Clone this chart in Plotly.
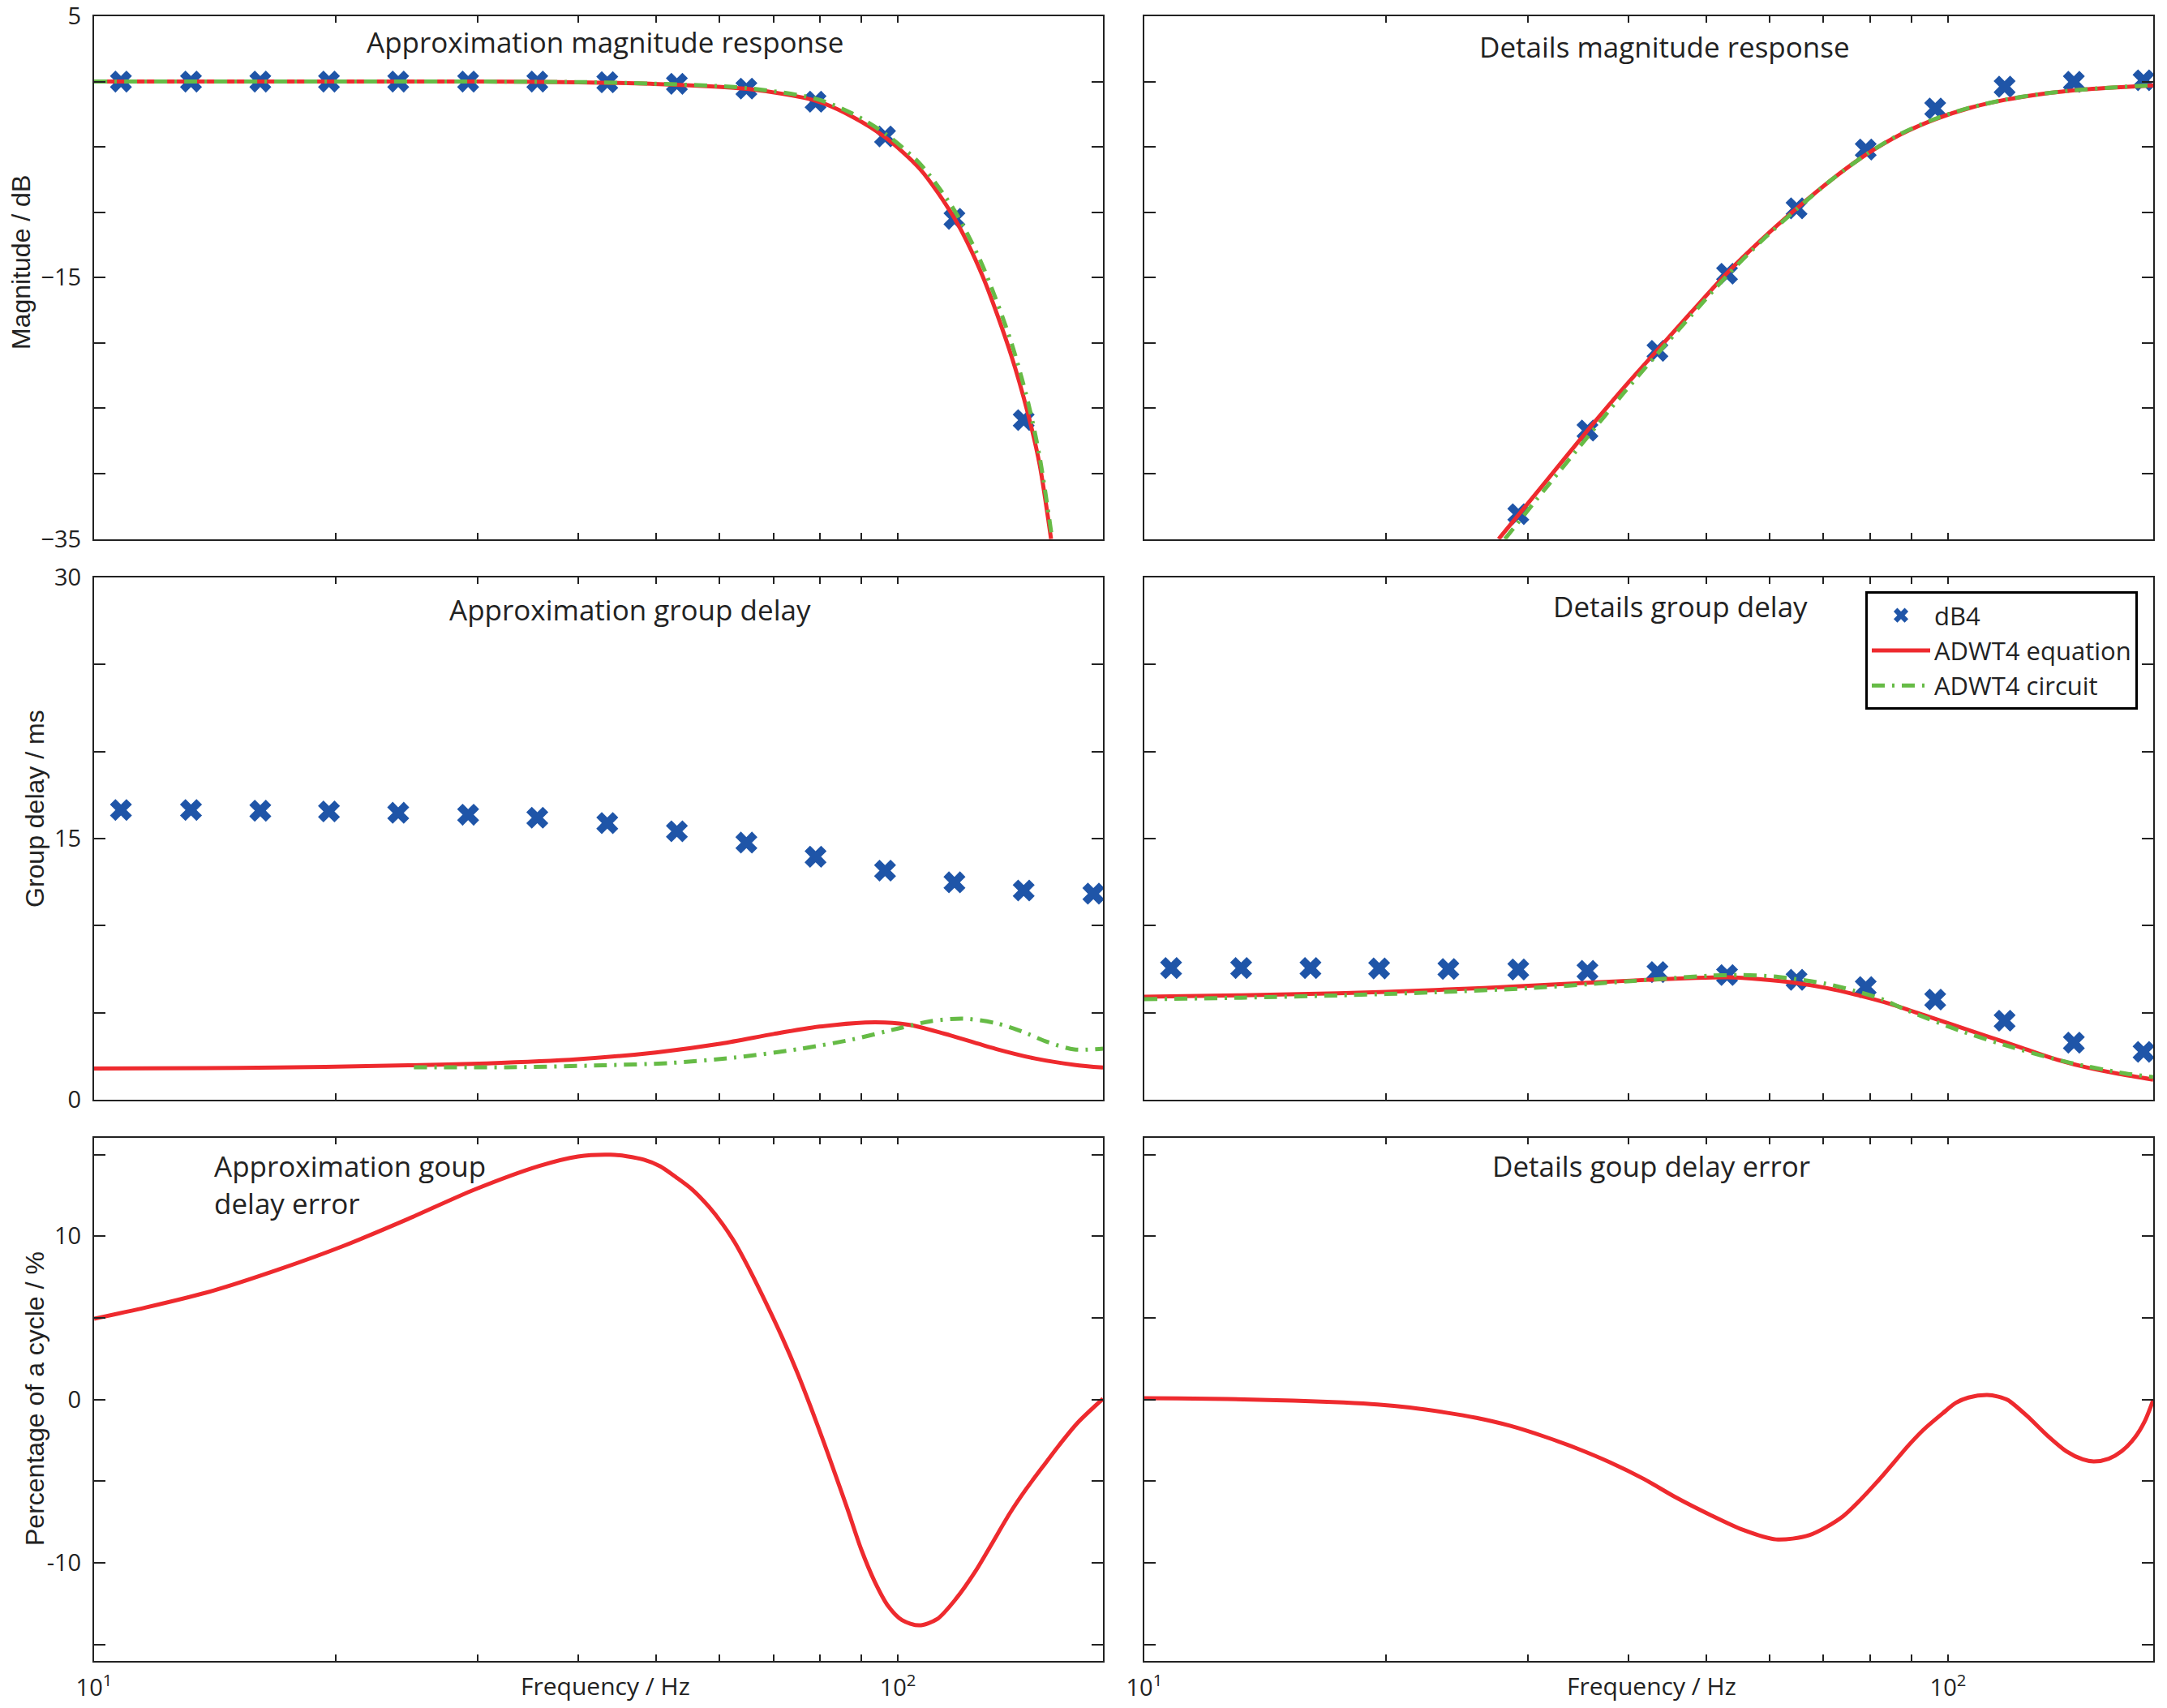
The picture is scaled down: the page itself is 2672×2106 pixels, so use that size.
import plotly.graph_objects as go
from plotly.subplots import make_subplots

# dB4 reference points (same frequencies in every panel)
db4_freq = [10.8, 13.2, 16.1, 19.6, 23.9, 29.2, 35.6, 43.5, 53.1, 64.8, 79.0, 96.4, 117.6, 143.4, 175.1]

approx_mag_db4 = [0, 0, 0, 0, 0, 0, 0, -0.05, -0.17, -0.54, -1.54, -4.2, -10.5, -25.9, None]
detail_mag_db4 = [None, None, None, None, None, -33.1, -26.7, -20.6, -14.7, -9.7, -5.2, -2.06, -0.39, -0.02, 0.1]
approx_gd_db4 = [16.64, 16.64, 16.60, 16.56, 16.48, 16.37, 16.20, 15.89, 15.42, 14.77, 13.96, 13.16, 12.49, 12.02, 11.84]
detail_gd_db4 = [7.57, 7.57, 7.57, 7.55, 7.52, 7.49, 7.41, 7.34, 7.17, 6.90, 6.48, 5.76, 4.55, 3.29, 2.76]

# approximation magnitude
am_eq_f = [10, 20, 30, 40, 49.2, 64.9, 79.1, 87.8, 96.5, 106.6, 117.7, 127.3, 138.3, 145.3, 150.1, 155.1]
am_eq = [0, 0, 0, -0.05, -0.17, -0.56, -1.47, -2.69, -4.28, -6.7, -10.5, -14.8, -20.9, -25.5, -29.3, -35.0]
am_ci_f = [10, 20, 30, 40, 49.2, 64.9, 79.1, 87.8, 96.5, 106.6, 117.7, 127.3, 138.3, 145.3, 150.1, 155.6]
am_ci = [0, 0, 0, -0.04, -0.15, -0.5, -1.32, -2.45, -4.0, -6.3, -9.9, -14.0, -19.9, -24.6, -28.7, -35.0]

# details magnitude
dm_eq_f = [27.6, 31.5, 35.6, 39.4, 43.4, 48.0, 53.0, 58.6, 64.7, 71.5, 79.0, 87.3, 96.5, 106.5, 117.7, 130.0, 143.7, 158.5, 175.0, 180.0]
dm_eq = [-35.0, -30.7, -26.7, -23.5, -20.6, -17.6, -14.7, -12.1, -9.75, -7.55, -5.6, -4.04, -2.87, -2.01, -1.4, -0.97, -0.67, -0.48, -0.33, -0.29]
dm_ci_f = [28.1, 31.5, 35.6, 39.4, 43.4, 48.0, 53.0, 58.6, 64.7, 71.5, 79.0, 87.3, 96.5, 106.5, 117.7, 130.0, 143.7, 158.5, 175.0, 180.0]
dm_ci = [-35.0, -31.2, -27.2, -23.9, -20.9, -17.85, -14.9, -12.2, -9.8, -7.55, -5.6, -4.0, -2.84, -1.99, -1.39, -0.96, -0.66, -0.47, -0.32, -0.28]

# approximation group delay
ag_eq_f = [10, 15.1, 19.4, 24.6, 30.8, 40.0, 50.0, 60.3, 70.1, 79.9, 91.1, 96.3, 103.8, 116.2, 132.4, 148.1, 165.8, 180]
ag_eq = [1.81, 1.84, 1.90, 1.99, 2.10, 2.34, 2.73, 3.24, 3.79, 4.21, 4.45, 4.45, 4.30, 3.71, 2.93, 2.38, 2.02, 1.86]
ag_ci_f = [25.0, 32.6, 43.0, 51.9, 62.6, 75.5, 87.7, 100, 109.8, 120.6, 132.4, 142.6, 153.7, 165.8, 180]
ag_ci = [1.88, 1.88, 1.99, 2.12, 2.43, 2.93, 3.47, 4.10, 4.52, 4.67, 4.41, 3.94, 3.32, 2.90, 2.95]

# details group delay
dg_eq_f = [10, 13.2, 17.4, 23.0, 30.4, 40.3, 48.6, 53.3, 58.5, 64.2, 70.5, 77.3, 84.9, 93.2, 102.3, 112.3, 123.2, 135.2, 148.4, 163.0, 180]
dg_eq = [5.92, 6.01, 6.12, 6.31, 6.56, 6.85, 7.01, 7.04, 6.93, 6.74, 6.43, 6.01, 5.50, 4.88, 4.25, 3.63, 3.01, 2.38, 1.88, 1.50, 1.17]
dg_ci_f = [10, 13.2, 17.4, 23.0, 30.4, 40.3, 50.4, 55.3, 60.7, 64.9, 70.5, 76.3, 82.5, 89.3, 103.6, 120.5, 141.4, 165.9, 180]
dg_ci = [5.78, 5.87, 6.0, 6.18, 6.43, 6.82, 7.13, 7.17, 7.09, 6.93, 6.67, 6.28, 5.81, 5.11, 3.97, 3.01, 2.15, 1.53, 1.32]

# group delay error, % of a cycle
ae_f = [10, 11.6, 14.1, 16.9, 20.4, 24.6, 29.7, 35.8, 40.0, 43.9, 46.0, 48.3, 50.6, 53.0, 55.5, 58.2, 60.5, 62.7,
        65.7, 68.8, 71.8, 74.9, 77.9, 80.8, 83.7, 86.7, 90.0, 93.6, 97.3, 101.2, 106.3, 111.9, 118.1, 124.7, 130.6,
        137.9, 144.5, 151.3, 158.5, 167.3, 180]
ae = [4.95, 5.64, 6.68, 7.93, 9.39, 11.06, 12.84, 14.30, 14.88, 14.99, 14.89, 14.68, 14.28, 13.6, 12.85, 11.8, 10.75, 9.6,
      7.75, 5.75, 3.8, 1.7, -0.45, -2.55, -4.66, -6.8, -9.15, -11.15, -12.65, -13.5, -13.82, -13.44, -12.2, -10.56, -8.91,
      -6.94, -5.46, -4.14, -2.83, -1.43, 0.05]
de_f = [10, 11, 12.1, 13.3, 14.6, 16.1, 17.7, 19.5, 21.4, 23.6, 25.9, 28.5, 31.4, 34.5, 38.0, 41.8, 45.9, 50.5, 55.6,
        61.1, 67.2, 74.0, 81.4, 89.5, 93.2, 98.5, 102.3, 106.0, 111.8, 115.5, 118.7, 125.5, 132.7, 140.3, 147.1, 151.8,
        158.5, 164.5, 170.7, 175.6, 180]
de = [0.08, 0.07, 0.05, 0.01, -0.04, -0.10, -0.18, -0.30, -0.49, -0.78, -1.12, -1.60, -2.25, -2.98, -3.85, -4.85, -6.0, -7.04, -7.98,
      -8.56, -8.3, -7.15, -5.1, -2.75, -1.85, -0.84, -0.20, 0.12, 0.28, 0.18, -0.03, -1.02, -2.17, -3.16, -3.66, -3.79,
      -3.62, -3.16, -2.34, -1.35, -0.03]

BLUE = "#1f55a8"
RED = "#ee2a2e"
GREEN = "#66bb46"

# reference canvas; the page body adds an 8px margin, so the figure is 16px smaller
W, H = 2672, 2106
OFF = 8
L, R, T, B = 116, 17, 20, 58
FW, FH = W - 2 * OFF, H - 2 * OFF
TICKFONT = dict(family="Liberation Sans Narrow, Open Sans, sans-serif", size=29, color="#222")


def px(x):
    return (x - L) / (W - L - R)


def py(y):
    return (H - B - y) / (H - T - B)


fig = make_subplots(rows=3, cols=2, horizontal_spacing=0.02, vertical_spacing=0.0232)

panels = [
    (1, 1, am_eq_f, am_eq, am_ci_f, am_ci, approx_mag_db4),
    (1, 2, dm_eq_f, dm_eq, dm_ci_f, dm_ci, detail_mag_db4),
    (2, 1, ag_eq_f, ag_eq, ag_ci_f, ag_ci, approx_gd_db4),
    (2, 2, dg_eq_f, dg_eq, dg_ci_f, dg_ci, detail_gd_db4),
]

first = True
for r, c, ef, ev, cf, cv, mk in panels:
    fig.add_trace(go.Scatter(x=db4_freq, y=mk, mode="markers", name="dB4", legendgroup="db4",
                             showlegend=first, marker=dict(symbol="x", size=24, color=BLUE,
                                                           line=dict(width=0))), row=r, col=c)
    fig.add_trace(go.Scatter(x=ef, y=ev, mode="lines", name="ADWT4 equation", legendgroup="eq",
                             showlegend=first, line=dict(color=RED, width=5, shape="spline",
                                                         smoothing=0.8)), row=r, col=c)
    fig.add_trace(go.Scatter(x=cf, y=cv, mode="lines", name="ADWT4 circuit", legendgroup="ci",
                             showlegend=first, line=dict(color=GREEN, width=5, shape="spline",
                                                         smoothing=0.8, dash="16px,9px,3px,9px")),
                  row=r, col=c)
    first = False

fig.add_trace(go.Scatter(x=ae_f, y=ae, mode="lines", showlegend=False,
                         line=dict(color=RED, width=5, shape="spline", smoothing=0.8)), row=3, col=1)
fig.add_trace(go.Scatter(x=de_f, y=de, mode="lines", showlegend=False,
                         line=dict(color=RED, width=5, shape="spline", smoothing=0.8)), row=3, col=2)

yaxes_cfg = {
    1: ([-35, 5], [5, -15, -35], ["5", "\u221215", "\u221235"], [0, -5, -10, -20, -25, -30]),
    2: ([0, 30], [0, 15, 30], ["0", "15", "30"], [5, 10, 20, 25]),
    3: ([-16, 16], [10, 0, -10], ["10", "0", "-10"], [15, 5, -5, -15]),
}

for r in (1, 2, 3):
    rng, tv, tt, mv = yaxes_cfg[r]
    for c in (1, 2):
        fig.update_yaxes(range=rng, tickmode="array", tickvals=tv, ticktext=tt,
                         showticklabels=(c == 1), ticks="inside", ticklen=14, tickwidth=1.5,
                         tickcolor="#222", minor=dict(tickvals=mv, ticks="inside", ticklen=14,
                                                      tickwidth=1.5, tickcolor="#222"),
                         showgrid=False, zeroline=False, showline=True, linecolor="#222",
                         linewidth=2, mirror="ticks", tickfont=TICKFONT, ticklabelstandoff=8,
                         ticklabeloverflow="allow", automargin=False, row=r, col=c)
        fig.update_xaxes(type="log", range=[1, 2.2553], tickmode="array", tickvals=[10, 100],
                         ticktext=["10<sup>1</sup>", "10<sup>2</sup>"], showticklabels=(r == 3),
                         ticks="inside", ticklen=8, tickwidth=1.5, tickcolor="#222",
                         minor=dict(tickvals=[20, 30, 40, 50, 60, 70, 80, 90], ticks="inside",
                                    ticklen=8, tickwidth=1.5, tickcolor="#222"),
                         showgrid=False, zeroline=False, showline=True, linecolor="#222",
                         linewidth=2, mirror="ticks", tickfont=TICKFONT, ticklabelstandoff=6,
                         ticklabeloverflow="allow", automargin=False, row=r, col=c)

TITLEFONT = dict(family="Open Sans, sans-serif", size=35, color="#222")
LABELFONT = dict(family="Liberation Sans, Arial, sans-serif", size=32, color="#222")

titles = [
    ("Approximation magnitude response", 746, 51),
    ("Details magnitude response", 2052, 58),
    ("Approximation group delay", 777, 751),
    ("Details group delay", 2072, 748),
    ("Details goup delay error", 2036, 1437),
]
for text, x, y in titles:
    fig.add_annotation(text=text, x=px(x), y=py(y), xref="paper", yref="paper", xanchor="center",
                       yanchor="middle", showarrow=False, font=TITLEFONT)
fig.add_annotation(text="Approximation goup<br>delay error", x=px(262), y=py(1460), xref="paper",
                   yref="paper", xanchor="left", yanchor="middle", align="left", showarrow=False,
                   font=TITLEFONT)

for text, y, x in [("Magnitude / dB", 324, 26), ("Group delay / ms", 997, 43),
                   ("Percentage of a cycle / %", 1725, 43)]:
    fig.add_annotation(text=text, x=px(x), y=py(y), xref="paper", yref="paper", textangle=-90,
                       xanchor="center", yanchor="middle", showarrow=False, font=LABELFONT)

for x in (746, 2036):
    fig.add_annotation(text="Frequency / Hz", x=px(x), y=py(2078), xref="paper", yref="paper",
                       xanchor="center", yanchor="middle", showarrow=False,
                       font=dict(family="Open Sans, sans-serif", size=30, color="#222"))

fig.update_layout(
    width=FW, height=FH,
    margin=dict(l=L - OFF, r=R - OFF, t=T - OFF, b=B - OFF, autoexpand=False),
    paper_bgcolor="white", plot_bgcolor="white",
    legend=dict(x=px(2636), y=py(729), xanchor="right", yanchor="top", bgcolor="white",
                bordercolor="black", borderwidth=3, itemwidth=72, tracegroupgap=0,
                font=dict(family="Open Sans, sans-serif", size=31, color="#222")),
)

fig.write_html("out.html")
